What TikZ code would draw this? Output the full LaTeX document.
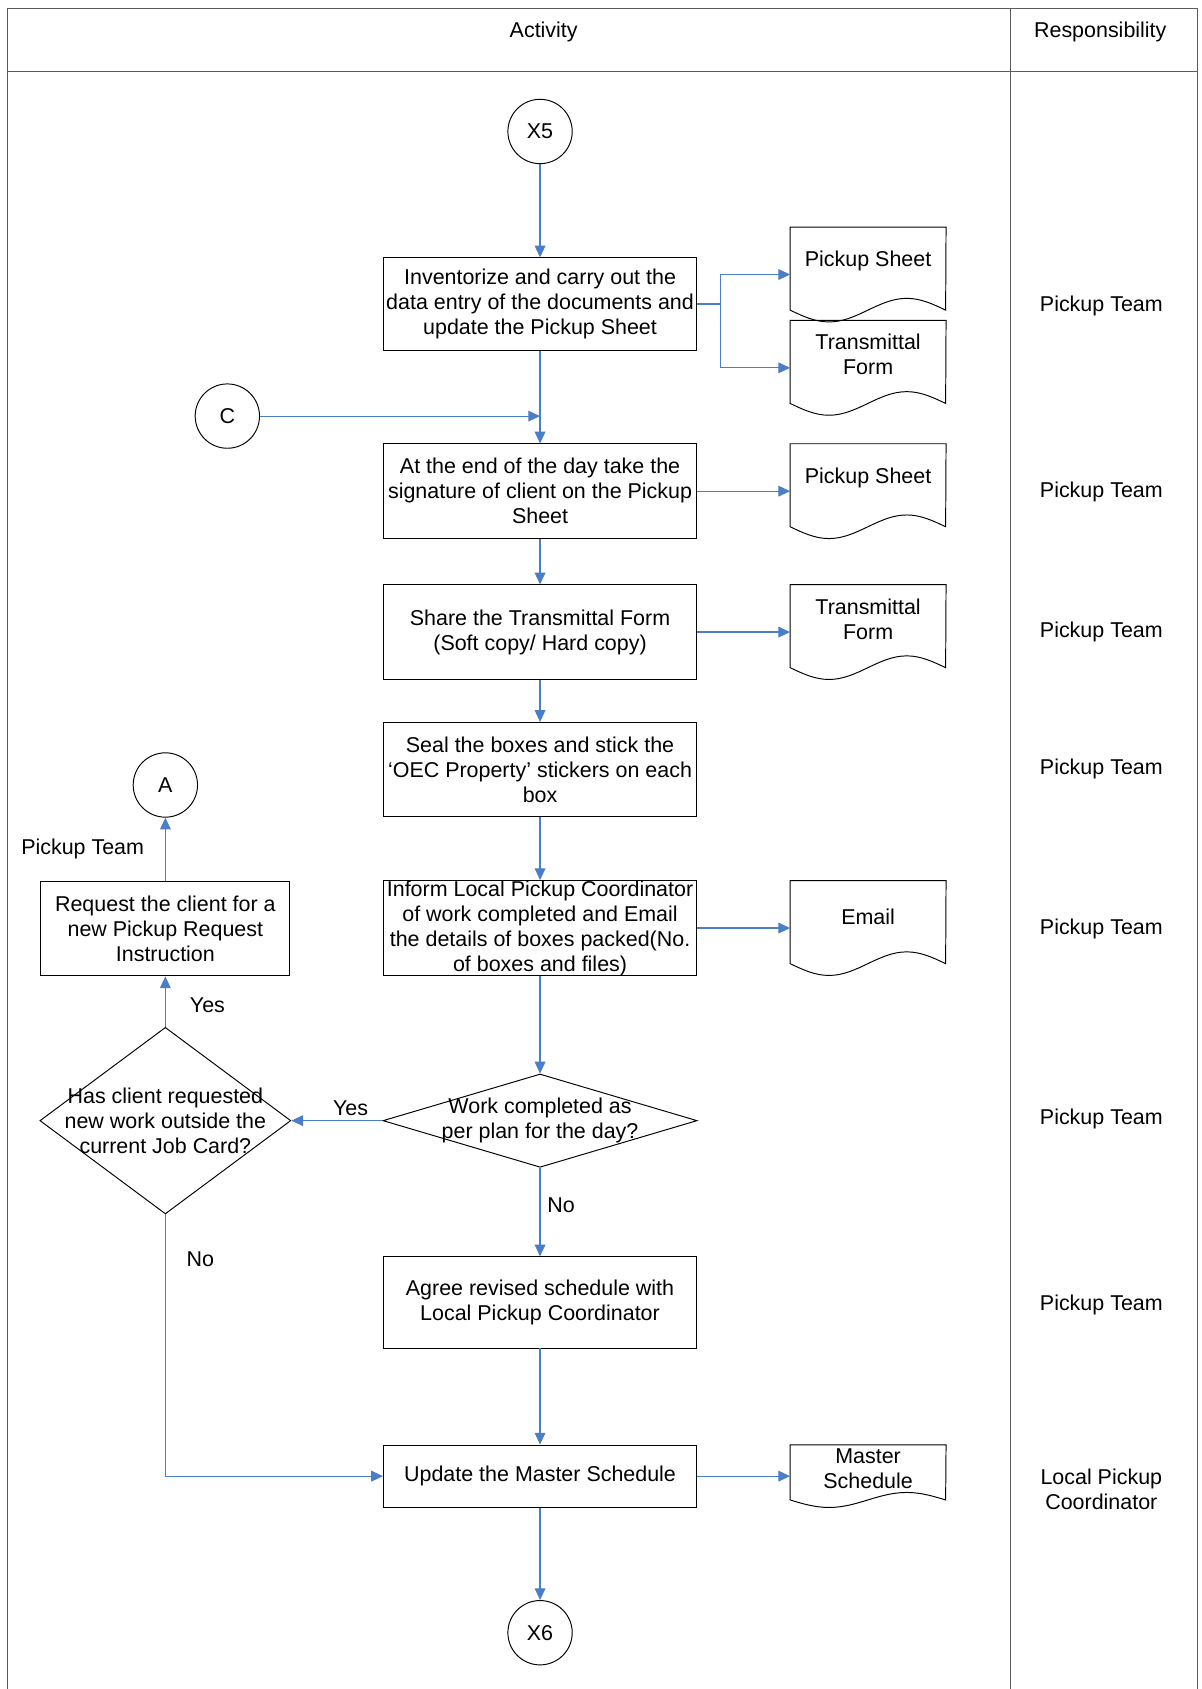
\documentclass[tikz,border=0pt]{standalone}
\usepackage{fontspec}
\setmainfont{Liberation Sans}
\usepackage{tikz}
\usetikzlibrary{arrows.meta,shapes.geometric,positioning}
\definecolor{flowblue}{RGB}{74,126,199}
\definecolor{framegray}{RGB}{90,90,90}
\tikzset{
    flow/.style={draw=flowblue, line width=1.1pt, -{Triangle[width=10pt,length=11pt]}},
    actbox/.style={draw, line width=0.9pt, minimum width=292pt, minimum height=88pt, align=center, inner sep=0pt},
    conn/.style={draw, circle, line width=0.9pt, minimum size=60pt, inner sep=0pt},
    decision/.style={draw, diamond, line width=0.9pt, inner sep=0pt},
    docnode/.style={minimum width=145pt, minimum height=88pt, inner sep=0pt},
    doctext/.style={yshift=#1, align=center, inner sep=0pt},
    frame/.style={draw=framegray, line width=1pt},
}
% outline of a document symbol round a docnode
\newcommand{\docframe}[2]{%
    \draw[line width=0.9pt] (#1.north west) -- ([yshift=#2pt]#1.south west)
        sin ++(36.25,#2) cos ++(36.25,-#2) sin ++(36.25,-#2) cos ++(36.25,#2)
        -- (#1.north east) -- cycle;}

\begin{document}
\begin{tikzpicture}[x=1pt, y=-1pt, font=\fontsize{20}{23.3}\selectfont]
    \useasboundingbox (0,0) rectangle (1120,1575);
    % table
    \draw[frame] (7,1575) -- (7,8) -- (1117,8) -- (1117,1575);
    \draw[frame] (7,67) -- (1117,67);
    \draw[frame] (942.5,8) -- (942.5,1575);
    \node (hact) at (507,30) {Activity};
    \node (hresp) at (1026,30) {Responsibility};

    % activity column
    \node[conn] (x5) at (503.6,122.6) {X5};
    \node[actbox, minimum height=86pt] (b1) at (503.6,283.5) {Inventorize and carry out the\\data entry of the documents and\\update the Pickup Sheet};
    \node[conn] (c) at (212,388) {C};
    \node[actbox] (b2) at (503.6,458) {At the end of the day take the\\signature of client on the Pickup\\Sheet};
    \node[actbox] (b3) at (503.6,589.4) {Share the Transmittal Form\\(Soft copy/ Hard copy)};
    \node[actbox] (b4) at (503.6,717.7) {Seal the boxes and stick the\\`OEC Property' stickers on each\\box};
    \node[actbox] (b5) at (503.6,865.4) {Inform Local Pickup Coordinator\\of work completed and Email\\the details of boxes packed(No.\\of boxes and files)};
    \node[decision, minimum width=293pt, minimum height=87pt,
        label={[align=center]center:{Work completed as\\per plan for the day?}}] (d1) at (503.6,1045) {};
    \node[decision, minimum width=234pt, minimum height=174pt,
        label={[align=center]center:{Has client requested\\new work outside the\\current Job Card?}}] (d2) at (154.2,1045) {};
    \node[actbox, minimum width=232pt] (b8) at (154.2,866) {Request the client for a\\new Pickup Request\\Instruction};
    \node[conn] (a) at (154.2,732) {A};
    \node[actbox, minimum height=85pt] (b6) at (503.6,1214.5) {Agree revised schedule with\\Local Pickup Coordinator};
    \node[actbox, minimum height=58pt] (b7) at (503.6,1376.5) {Update the Master Schedule};
    \node[conn] (x6) at (503.6,1522.5) {X6};

    % documents
    \node[docnode, label={[doctext=13pt]center:Pickup Sheet}] (ps1) at (809.5,256) {};
    \node[docnode, label={[doctext=13pt]center:{Transmittal\\Form}}] (tf1) at (809.5,343) {};
    \node[docnode, label={[doctext=12pt]center:Pickup Sheet}] (ps2) at (809.5,458) {};
    \node[docnode, label={[doctext=12pt]center:{Transmittal\\Form}}] (tf2) at (809.5,589.4) {};
    \node[docnode, label={[doctext=10pt]center:Email}] (em) at (809.5,865.4) {};
    \node[docnode, minimum height=58pt, label={[doctext=7pt]center:{Master\\Schedule}}] (ms) at (809.5,1376.5) {};
    \docframe{ps1}{11}
    \docframe{tf1}{11}
    \docframe{ps2}{11}
    \docframe{tf2}{11}
    \docframe{em}{11}
    \docframe{ms}{7}

    % connectors
    \draw[flow] (x5) -- (b1);
    \draw[flow] (b1.east) -- ++(22,0) |- (ps1.west);
    \draw[flow] (b1.east) -- ++(22,0) |- (tf1.west);
    \draw[flow] (b1) -- (b2);
    \draw[flow] (c) -- (b1.south |- c);
    \draw[flow] (b2) -- (ps2);
    \draw[flow] (b2) -- (b3);
    \draw[flow] (b3) -- (tf2);
    \draw[flow] (b3) -- (b4);
    \draw[flow] (b4) -- (b5);
    \draw[flow] (b5) -- (em);
    \draw[flow] (b5) -- (d1);
    \draw[flow] (d1.west) -- node[pos=0.35, above=1pt] {Yes} (d2.east);
    \draw[flow] (d2.north) -- node[pos=0.43, right=19pt] {Yes} (b8.south);
    \draw[flow] (b8.north) -- node[midway, left=16pt] {Pickup Team} (a.south);
    \draw[flow] (d1.south) -- node[pos=0.42, right=3pt] {No} (b6.north);
    \draw[flow] (d2.south) -- node[pos=0.17, right=16pt] {No} (d2.south |- b7.west) -- (b7.west);
    \draw[flow] (b6) -- (b7);
    \draw[flow] (b7) -- (ms);
    \draw[flow] (b7) -- (x6);

    % responsibility column
    \node (r1) at (1027,285) {Pickup Team};
    \node (r2) at (1027,459) {Pickup Team};
    \node (r3) at (1027,589) {Pickup Team};
    \node (r4) at (1027,717) {Pickup Team};
    \node (r5) at (1027,866) {Pickup Team};
    \node (r6) at (1027,1043) {Pickup Team};
    \node (r7) at (1027,1217) {Pickup Team};
    \node[align=center] (r8) at (1027,1389) {Local Pickup\\Coordinator};
\end{tikzpicture}
\end{document}
